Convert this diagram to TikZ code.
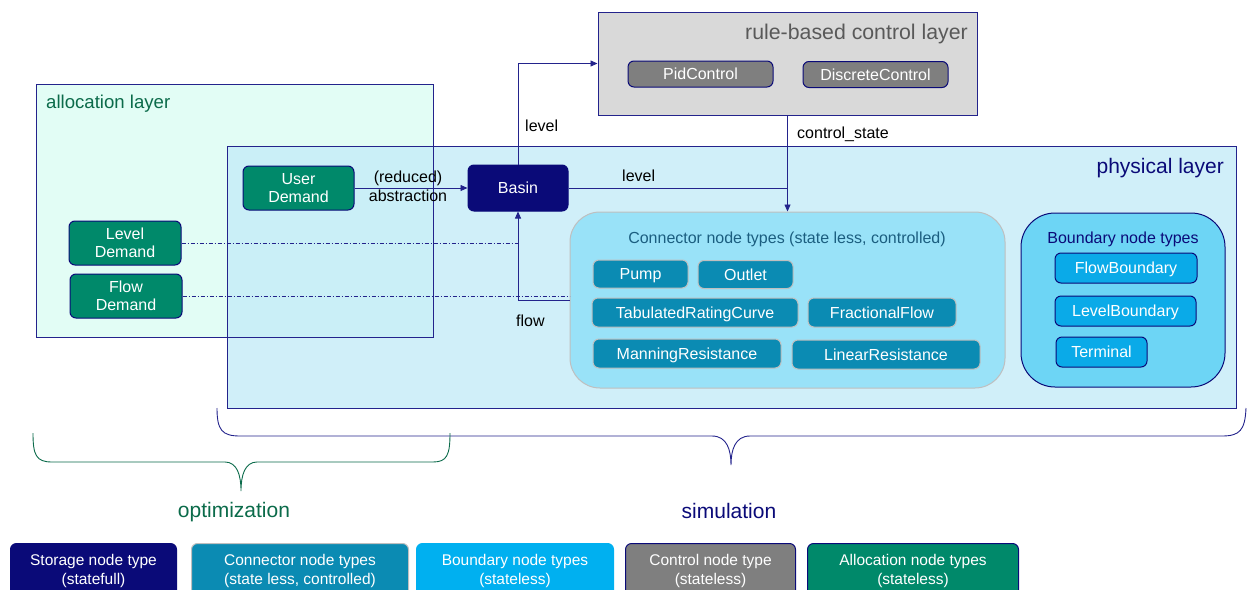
\documentclass[tikz,border=0pt]{standalone}
\usepackage{fontspec}
\setmainfont{Liberation Sans}
\usetikzlibrary{arrows.meta,calc}
\definecolor{navy}{HTML}{0A0A78}
\definecolor{navyline}{HTML}{23238C}
\definecolor{allocfill}{HTML}{E2FDF5}
\definecolor{physfill}{HTML}{C5ECF8}
\definecolor{ctrlfill}{HTML}{D9D9D9}
\definecolor{ctrlnode}{HTML}{7F7F7F}
\definecolor{greennode}{HTML}{00896A}
\definecolor{connnode}{HTML}{0B8BB3}
\definecolor{connbg}{HTML}{99E2F8}
\definecolor{bndbg}{HTML}{6DD5F5}
\definecolor{bndnode}{HTML}{0AAAE8}
\definecolor{legbnd}{HTML}{00B0F0}
\definecolor{grayborder}{HTML}{BFBFBF}
\definecolor{dkgreen}{HTML}{0B6B4A}
\definecolor{conntitle}{HTML}{1B5E80}
\definecolor{ctrltitle}{HTML}{595959}
\tikzset{
  fs/.style={font=\fontsize{#1}{18.5}\selectfont},
  box/.style={rounded corners=6pt, inner sep=0pt, text=white, fs=16, align=center},
  oneline/.style={text height=11.5pt, text depth=0.5pt},
  greenbox/.style={box, fill=greennode, draw=navy, line width=1pt},
  ctrlbox/.style={box, oneline, fill=ctrlnode, draw=navy, line width=1pt},
  connbox/.style={box, oneline, fill=connnode, draw=grayborder, line width=1pt},
  bndbox/.style={box, oneline, fill=bndnode, draw=navy, line width=1pt},
  basinbox/.style={box, oneline, fill=navy, draw=navy, line width=1pt},
  layer/.style={draw=navyline, line width=1pt, inner sep=0pt},
  conn/.style={draw=navyline, line width=0.8pt},
  arr/.style={conn, -{Triangle[length=7pt,width=6pt]}},
  dashdot/.style={draw=navyline, line width=0.8pt, dash pattern=on 4pt off 2pt on 1pt off 2pt},
  lbl/.style={fs=16, text=black, inner sep=0pt},
  legend/.style={rounded corners=6pt, inner sep=0pt, text=white, align=center, line width=1pt},
}
\begin{document}
\begin{tikzpicture}[x=1pt,y=-1pt]
\clip (0,0) rectangle (1249,589);
\fill[white] (0,0) rectangle (1249,589);

% allocation layer
\node[fill=allocfill, minimum width=396, minimum height=252, inner sep=0pt] (alloc) at (235,211) {};
% physical layer (semi transparent over allocation)
\node[fill=physfill, fill opacity=0.8, minimum width=1008, minimum height=261, inner sep=0pt] (phys) at (732,277.5) {};
\draw[layer] (alloc.north west) rectangle (alloc.south east);
\draw[layer] (phys.north west) rectangle (phys.south east);
\node[anchor=base west, fs=18.6, text=dkgreen, inner sep=0pt] (alloctitle) at (46,108.5) {allocation layer};
\node[anchor=base east, fs=21, text=navy, inner sep=0pt] (phystitle) at (1224,173.5) {physical layer};

% control layer
\node[layer, fill=ctrlfill, minimum width=379, minimum height=103] (ctrl) at (787.5,63.5) {};
\node[anchor=base east, fs=21.3, text=ctrltitle, inner sep=0pt] (ctrltitle) at (968,39.5) {rule-based control layer};
\node[ctrlbox, minimum width=145, minimum height=26] (pid) at (700.5,74) {PidControl};
\node[ctrlbox, minimum width=145, minimum height=26] (disc) at (875.5,74.5) {DiscreteControl};

% connector node types
\node[rounded corners=30pt, fill=connbg, draw=grayborder, line width=1pt, minimum width=435, minimum height=176, inner sep=0pt] (connbg) at (787.5,300) {};
\node[fs=16, text=conntitle, inner sep=0pt, anchor=base] (conntitle) at (787,243) {Connector node types (state less, controlled)};
\node[connbox, minimum width=95, minimum height=28] (pump) at (640.5,274) {Pump};
\node[connbox, minimum width=95, minimum height=28] (outlet) at (745.5,274.5) {Outlet};
\node[connbox, minimum width=206, minimum height=29] (trc) at (695,312.5) {TabulatedRatingCurve};
\node[connbox, minimum width=148, minimum height=29] (ff) at (882,312.5) {FractionalFlow};
\node[connbox, minimum width=188, minimum height=29] (mr) at (687,353.5) {ManningResistance};
\node[connbox, minimum width=188, minimum height=29] (lr) at (886,354.5) {LinearResistance};

% boundary node types
\node[rounded corners=34pt, fill=bndbg, draw=navy, line width=1pt, minimum width=204, minimum height=174, inner sep=0pt] (bndbg) at (1123,300) {};
\node[fs=16, text=navy, inner sep=0pt, anchor=base] (bndtitle) at (1123,243.5) {Boundary node types};
\node[bndbox, minimum width=142, minimum height=30] (fb) at (1126,268) {FlowBoundary};
\node[bndbox, minimum width=141, minimum height=30] (lb) at (1125.5,311) {LevelBoundary};
\node[bndbox, minimum width=91, minimum height=30] (term) at (1101.5,352) {Terminal};

% demand nodes and basin
\node[greenbox, minimum width=111, minimum height=44] (ud) at (298.5,188) {User\\Demand};
\node[greenbox, minimum width=112, minimum height=44] (ld) at (125,243) {Level\\Demand};
\node[greenbox, minimum width=112, minimum height=44] (fd) at (126,296) {Flow\\Demand};
\node[basinbox, minimum width=100, minimum height=46] (basin) at (518,188) {Basin};

% connectors
\draw[arr] (ud.east) -- (basin.west);
\node[lbl, align=center, anchor=center] (abslbl) at (408,186.5) {(reduced)\\abstraction};
\draw[arr] (basin.north) |- (ctrl.west);
\node[lbl, anchor=base west] (lvl1) at (525,131) {level};
\draw[arr] (ctrl.south) -- (connbg.north);
\node[lbl, anchor=base west] (cslbl) at (797,138) {control\_state};
\draw[conn] (basin.east) -- (basin.east -| connbg.north);
\node[lbl, anchor=base west] (lvl2) at (622,181.5) {level};
\draw[dashdot] (ld.east) -- (ld.east -| basin.south);
\draw[dashdot] (fd.east) -- (fd.east -| connbg.west);
\draw[arr] (connbg.west) -| (basin.south);
\node[lbl, anchor=base west] (flowlbl) at (516,326) {flow};

% braces
\draw[navyline, line width=0.9pt] (217,408) .. controls (217,430) and (222,436) .. (240,436) -- (712,436) .. controls (727,436) and (731,450) .. (731,465) .. controls (731,450) and (735,436) .. (750,436) -- (1222,436) .. controls (1240,436) and (1245,430) .. (1246,408);
\draw[dkgreen, line width=0.9pt] (33,433) .. controls (33,455) and (36,462) .. (52,462) -- (225,462) .. controls (237,462) and (241,475) .. (241,491) .. controls (241,475) and (245,462) .. (257,462) -- (433,462) .. controls (447,462) and (450,455) .. (450,433);
\node[fs=21, text=dkgreen, inner sep=0pt, anchor=base] (opt) at (234,517) {optimization};
\node[fs=21, text=navy, inner sep=0pt, anchor=base] (sim) at (729,518) {simulation};

% legend
\node[legend, fill=navy, draw=navy, minimum width=166, minimum height=60, anchor=north west] (lg1) at (10,543) {};
\node[legend, fill=connnode, draw=grayborder, minimum width=217, minimum height=60, anchor=north west] (lg2) at (191,543) {};
\node[legend, fill=legbnd, draw=legbnd, minimum width=197, minimum height=60, anchor=north west] (lg3) at (416,543) {};
\node[legend, fill=ctrlnode, draw=navy, minimum width=170, minimum height=60, anchor=north west] (lg4) at (625,543) {};
\node[legend, fill=greennode, draw=navy, minimum width=211, minimum height=60, anchor=north west] (lg5) at (807,543) {};
\foreach \n/\a/\b in {lg1/Storage node type/(statefull), lg2/Connector node types/{(state less, controlled)}, lg3/Boundary node types/(stateless), lg4/Control node type/(stateless), lg5/Allocation node types/(stateless)}{
  \node[fs=15.5, text=white, inner sep=0pt, anchor=base] at ($(\n.north)+(0,22)$) {\a};
  \node[fs=15.5, text=white, inner sep=0pt, anchor=base] at ($(\n.north)+(0,41)$) {\b};
}
\end{tikzpicture}
\end{document}
